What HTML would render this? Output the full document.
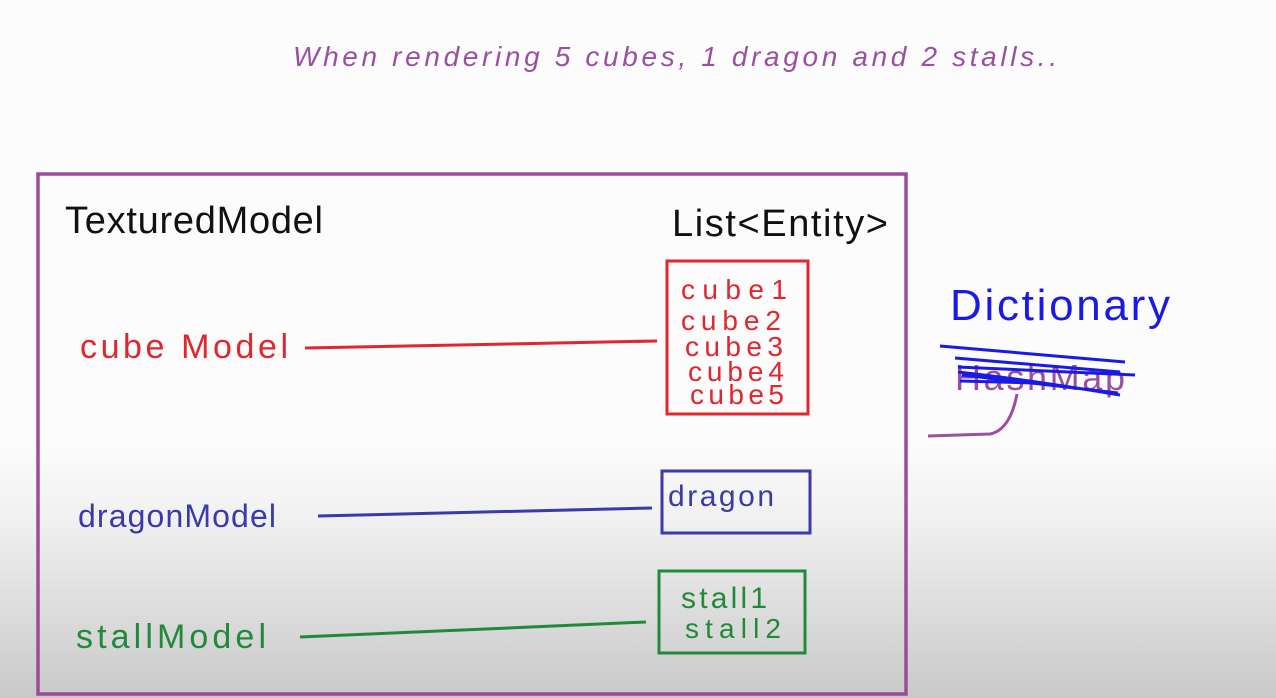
<!DOCTYPE html>
<html><head><meta charset="utf-8"><style>
html,body{margin:0;padding:0;width:1276px;height:698px;overflow:hidden;background:#fcfcfc}
svg{display:block}
text{font-family:"Liberation Sans",sans-serif}
</style></head><body>
<svg width="1276" height="698" viewBox="0 0 1276 698">
<defs><linearGradient id="g" x1="0" y1="0" x2="0" y2="1">
<stop offset="0" stop-color="#fcfcfc"/><stop offset="0.3" stop-color="#f1f1f1"/><stop offset="1" stop-color="#c9c9c9"/></linearGradient></defs>
<rect width="1276" height="698" fill="#fcfcfc"/>
<rect y="440" width="1276" height="258" fill="url(#g)"/>
<text x="293" y="66" font-size="28" font-style="italic" fill="#9b4fa0" textLength="764">When rendering 5 cubes, 1 dragon and 2 stalls..</text>
<rect x="38" y="174" width="868" height="520" fill="none" stroke="#994c9c" stroke-width="3.5"/>
<text x="65" y="233" font-size="38" fill="#111" textLength="258">TexturedModel</text>
<text x="672" y="236" font-size="38" fill="#111" textLength="216">List&lt;Entity&gt;</text>
<text x="80" y="358" font-size="34" fill="#e0262e" textLength="208">cube Model</text>
<line x1="305" y1="348" x2="657" y2="341" stroke="#e0262e" stroke-width="3"/>
<rect x="667" y="261" width="141" height="153" fill="none" stroke="#e0262e" stroke-width="3"/>
<g fill="#e0262e" font-size="28"><text x="681" y="299" textLength="106">cube1</text><text x="681" y="330" textLength="100">cube2</text><text x="685" y="356" textLength="98">cube3</text><text x="688" y="381" textLength="96">cube4</text><text x="690" y="404" textLength="94">cube5</text></g>
<text x="78" y="527" font-size="32" fill="#3a3aa8" textLength="198">dragonModel</text>
<line x1="318" y1="516" x2="652" y2="508" stroke="#3a3aa8" stroke-width="3"/>
<rect x="662" y="471" width="148" height="62" fill="none" stroke="#3a3aa8" stroke-width="3"/>
<text x="668" y="506" font-size="30" fill="#3a3aa8" textLength="106">dragon</text>
<text x="76" y="648" font-size="34" fill="#218a3a" textLength="190">stallModel</text>
<line x1="300" y1="637" x2="646" y2="622" stroke="#218a3a" stroke-width="3"/>
<rect x="659" y="571" width="146" height="82" fill="none" stroke="#218a3a" stroke-width="3"/>
<text x="681" y="608" font-size="30" fill="#218a3a" textLength="86">stall1</text>
<text x="685" y="638" font-size="28" fill="#218a3a" textLength="96">stall2</text>
<text x="950" y="320" font-size="44" fill="#1a1ae6" textLength="220">Dictionary</text>
<text x="955" y="390" font-size="36" fill="#9b4fa0" textLength="170">HashMap</text>
<g stroke="#1a1ae6" stroke-width="3" fill="none">
<path d="M940 346 L1125 362 M955 358 L1120 372 M958 367 L1135 375 M962 375 L1118 393 M960 381 L1035 383 M958 372 Q1030 380 1120 395"/>
</g>
<path d="M1017 394 Q1010 430 990 434 L928 436" stroke="#9b4fa0" stroke-width="3" fill="none"/>
</svg>
</body></html>
